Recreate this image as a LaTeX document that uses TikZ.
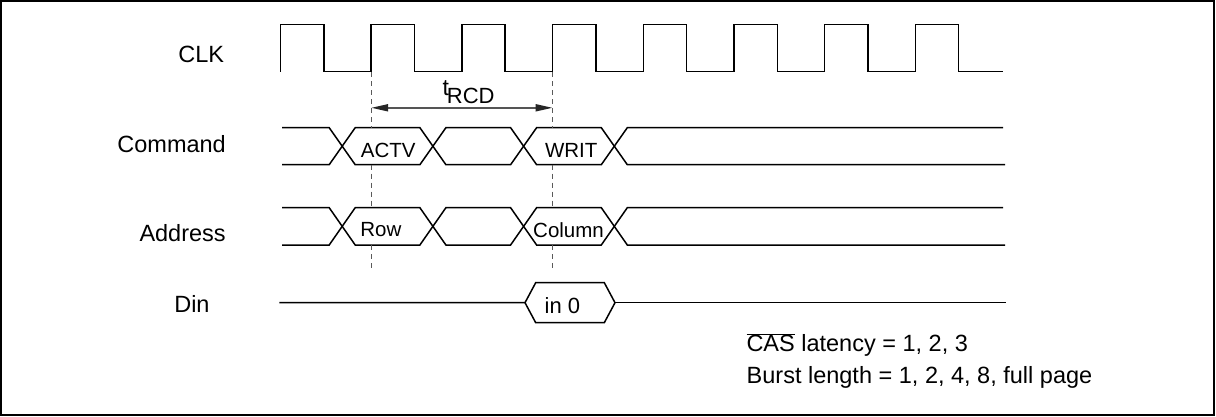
\documentclass[tikz,border=0pt]{standalone}
\usepackage{fontspec}
\setmainfont{Liberation Sans}
\usetikzlibrary{arrows.meta}
\newcommand\tdfs[1]{\fontsize{#1}{#1}\selectfont}
\definecolor{guidegray}{HTML}{5A5A5A}
\definecolor{dimgray}{HTML}{555555}
\begin{document}
\begin{tikzpicture}[x=1pt,y=-1pt,
  wave/.style={line width=1.5pt, line join=miter, line cap=butt},
  frame/.style={line width=1.5pt},
  lbl/.style={anchor=base west, inner sep=0pt, font=\tdfs{23.5}},
  bustxt/.style={anchor=base west, inner sep=0pt, font=\tdfs{20.5}},
  guide/.style={dash pattern=on 5pt off 4pt, line width=1.2pt, color=guidegray},
  dimline/.style={line width=1.8pt, color=dimgray,
    {Triangle[length=17pt,width=7pt,color=black!85]}-{Triangle[length=17pt,width=7pt,color=black!85]}}
]
\useasboundingbox (0,0) rectangle (1216,417);
\draw[frame] (1,1) rectangle (1214,415);

% signal labels
\node[lbl] (clk) at (178.1,62.3) {CLK};
\node[lbl] (cmd) at (117.2,152.7) {Command};
\node[lbl] (addr) at (139.3,241) {Address};
\node[lbl] (din) at (174.1,312.7) {Din};

% CLK waveform
\draw[wave] (280.5,71.7)
  \foreach \k in {0,...,7}{
    -- ({280.5+90.7*\k},71.7) -- ({280.5+90.7*\k},24.3)
    -- ({323.8+90.7*\k},24.3) -- ({323.8+90.7*\k},71.7)}
  -- (1003,71.7);

% crossings
\def\cA{342.2}\def\cB{432.9}\def\cC{523.6}\def\cD{614.3}\def\dd{13}

% Command bus
\def\T{127.7}\def\B{164.7}
\draw[wave] (282,\T) -- (\cA-\dd,\T) -- (\cA+\dd,\B) -- (\cB-\dd,\B) -- (\cB+\dd,\T)
  -- (\cC-\dd,\T) -- (\cC+\dd,\B) -- (\cD-\dd,\B) -- (\cD+\dd,\T) -- (1003,\T);
\draw[wave] (282,\B) -- (\cA-\dd,\B) -- (\cA+\dd,\T) -- (\cB-\dd,\T) -- (\cB+\dd,\B)
  -- (\cC-\dd,\B) -- (\cC+\dd,\T) -- (\cD-\dd,\T) -- (\cD+\dd,\B) -- (1005,\B);
\node[bustxt] (actv) at (360.7,157.3) {ACTV};
\node[bustxt] (writ) at (544.8,157.3) {WRIT};

% Address bus
\def\T{207.7}\def\B{245}
\draw[wave] (282,\T) -- (\cA-\dd,\T) -- (\cA+\dd,\B) -- (\cB-\dd,\B) -- (\cB+\dd,\T)
  -- (\cC-\dd,\T) -- (\cC+\dd,\B) -- (\cD-\dd,\B) -- (\cD+\dd,\T) -- (1003,\T);
\draw[wave] (282,\B) -- (\cA-\dd,\B) -- (\cA+\dd,\T) -- (\cB-\dd,\T) -- (\cB+\dd,\B)
  -- (\cC-\dd,\B) -- (\cC+\dd,\T) -- (\cD-\dd,\T) -- (\cD+\dd,\B) -- (1005,\B);
\node[bustxt] (row) at (360.1,236.7) {Row};
\node[bustxt] (col) at (533,237) {Column};

% Din
\draw[wave] (279.3,302.7) -- (525,302.7) -- (535.7,282.7) -- (604.3,282.7) -- (615,302.7)
  -- (604.3,322.7) -- (535.7,322.7) -- (525,302.7);
\draw[wave] (615,302.7) -- (1006,302.7);
\node[anchor=base west, inner sep=0pt, font=\tdfs{22}] (in0) at (544.5,313.3) {in 0};

% guide lines
\foreach \x/\n in {371.2/ga, 552.6/gb}{
  \coordinate (\n top) at (\x,72.5);
  \coordinate (\n bot) at (\x,270);
  \draw[guide] (\n top) -- (\x,127.7);
  \draw[guide] (\x,164.7) -- (\x,207.7);
  \draw[guide] (\x,245) -- (\n bot);
}

% tRCD
\coordinate (ra) at (371.2,107.8);
\coordinate (rb) at (552.6,107.8);
\draw[dimline] (ra) -- (rb);
\node[anchor=base west, inner sep=0pt, font=\tdfs{23}] (trcd) at (442.3,96)
  {t\kern-2pt\raisebox{-7.3pt}{\tdfs{22}RCD}};

% notes
\node[lbl] (cas) at (746.3,351.7) {$\overline{\mbox{CAS}}$ latency = 1, 2, 3};
\node[lbl] (burst) at (746.5,383.3) {Burst length = 1, 2, 4, 8, full page};
\end{tikzpicture}
\end{document}
